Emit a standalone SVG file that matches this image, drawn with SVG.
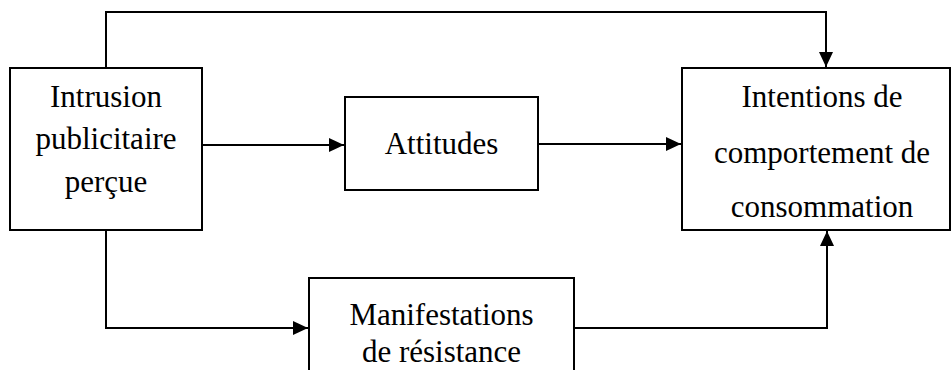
<svg xmlns="http://www.w3.org/2000/svg" width="952" height="370" viewBox="0 0 952 370">
<style>
.box{fill:#fff;stroke:#000;stroke-width:2}
.t{font-family:"Liberation Serif","Times New Roman",serif;font-size:31px;fill:#000;text-anchor:middle}
.c{fill:none;stroke:#000;stroke-width:2}
</style>
<defs>
<marker id="ah" viewBox="0 0 15 14" refX="15" refY="7" markerWidth="15" markerHeight="14" markerUnits="userSpaceOnUse" orient="auto">
<path d="M0,0 L15,7 L0,14 Z" fill="#000"/>
</marker>
</defs>
<rect width="952" height="370" fill="#fff"/>
<g id="connectors">
<path class="c" d="M106,68 V12 H826 V67" marker-end="url(#ah)"/>
<path class="c" d="M202,145 H344" marker-end="url(#ah)"/>
<path class="c" d="M538,144 H681" marker-end="url(#ah)"/>
<path class="c" d="M106,230 V328 H308" marker-end="url(#ah)"/>
<path class="c" d="M574,328 H827 V231" marker-end="url(#ah)"/>
</g>
<g id="intrusion">
<rect class="box" x="10" y="68" width="192" height="162"/>
<text class="t" x="106" y="107">Intrusion</text>
<text class="t" x="106" y="149">publicitaire</text>
<text class="t" x="106" y="192">perçue</text>
</g>
<g id="attitudes">
<rect class="box" x="345" y="97" width="193" height="93"/>
<text class="t" x="441.5" y="154">Attitudes</text>
</g>
<g id="intentions">
<rect class="box" x="682" y="68" width="268" height="162"/>
<text class="t" x="822" y="107">Intentions de</text>
<text class="t" x="822" y="163">comportement de</text>
<text class="t" x="822" y="217">consommation</text>
</g>
<g id="manifestations">
<rect class="box" x="309" y="278" width="265" height="100"/>
<text class="t" x="441.5" y="325">Manifestations</text>
<text class="t" x="441.5" y="362">de résistance</text>
</g>
</svg>
